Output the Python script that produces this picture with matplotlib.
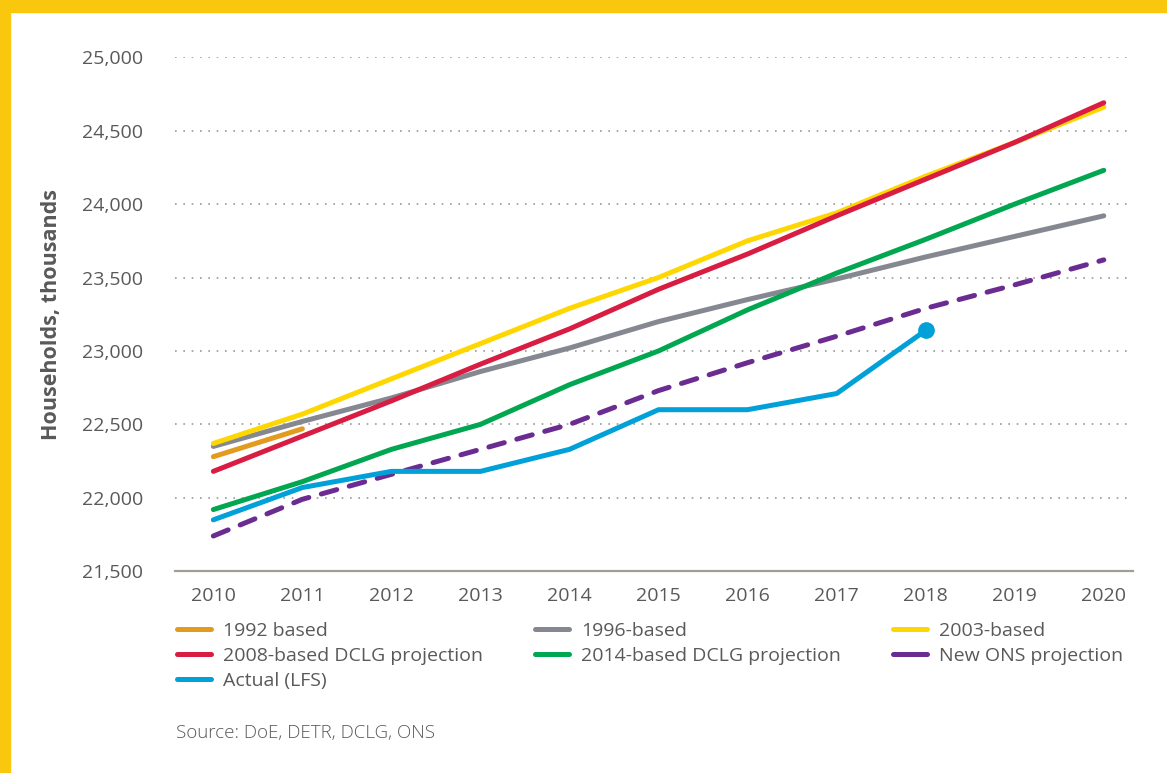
import matplotlib.pyplot as plt
from matplotlib.patches import Rectangle
from matplotlib.ticker import FuncFormatter

plt.rcParams['font.family'] = ['Open Sans', 'DejaVu Sans']

# Household projections, thousands
years = list(range(2010, 2021))
based_1992 = [22280, 22470]
based_1996 = [22350, 22520, 22680, 22860, 23020, 23200, 23350, 23490, 23640, 23780, 23920]
based_2003 = [22370, 22570, 22810, 23050, 23290, 23500, 23750, 23940, 24190, 24420, 24660]
based_2008 = [22180, 22420, 22660, 22910, 23150, 23420, 23660, 23920, 24170, 24420, 24690]
based_2014 = [21920, 22110, 22330, 22500, 22770, 23000, 23280, 23530, 23760, 24000, 24230]
ons_new = [21740, 21990, 22160, 22330, 22500, 22730, 22920, 23100, 23290, 23450, 23620]
actual_years = list(range(2010, 2019))
actual_lfs = [21850, 22070, 22180, 22180, 22330, 22600, 22600, 22710, 23140]

yticks = [21500, 22000, 22500, 23000, 23500, 24000, 24500, 25000]

text_col = '#58595b'

fig = plt.figure(figsize=(11.67, 7.73), dpi=100)
ax = fig.add_axes([0.150, 0.261, 0.821, 0.665])

# yellow frame on top and left
fig.patches.append(Rectangle((0, 1 - 12 / 773), 1, 12 / 773, transform=fig.transFigure,
                             color='#f9c80e', zorder=0))
fig.patches.append(Rectangle((0, 0), 10 / 1167, 1, transform=fig.transFigure,
                             color='#f9c80e', zorder=0))

lw = 3.6
ax.plot(years[:2], based_1992, color='#e39b1f', lw=lw, solid_capstyle='round', label='1992 based')
ax.plot(years, based_1996, color='#858890', lw=lw, solid_capstyle='round', label='1996-based')
ax.plot(years, based_2003, color='#ffd700', lw=lw, solid_capstyle='round', label='2003-based')
ax.plot(years, based_2008, color='#d91c41', lw=lw, solid_capstyle='round', label='2008-based DCLG projection')
ax.plot(years, based_2014, color='#00a650', lw=lw, solid_capstyle='round', label='2014-based DCLG projection')
ax.plot(years, ons_new, color='#6b2c91', lw=lw, dashes=(3.2, 2.6), dash_capstyle='round',
        label='New ONS projection')
ax.plot(actual_years, actual_lfs, color='#00a0d8', lw=lw, solid_capstyle='round', label='Actual (LFS)')
ax.plot(actual_years[-1:], actual_lfs[-1:], 'o', color='#00a0d8', ms=11)

ax.set_xlim(2009.57, 2020.33)
ax.set_ylim(21500, 25000)
ax.set_xticks(years)
ax.set_yticks(yticks)
ax.yaxis.set_major_formatter(FuncFormatter(lambda v, p: f'{int(v):,}'))
ax.tick_params(axis='both', length=0, labelsize=14, labelcolor=text_col)
ax.tick_params(axis='y', pad=23)
ax.tick_params(axis='x', pad=11)

for s in ['top', 'right', 'left']:
    ax.spines[s].set_visible(False)
ax.spines['bottom'].set_color('#a39d99')
ax.spines['bottom'].set_linewidth(1.6)

ax.grid(axis='y', color='#9a9a9a', linestyle=(0, (1, 4)), lw=1.2)
ax.set_axisbelow(True)

ax.set_ylabel('Households, thousands', fontsize=15.5, fontweight='bold', color=text_col, labelpad=14)

handles, labels = ax.get_legend_handles_labels()
order = [0, 3, 6, 1, 4, 2, 5]
leg = fig.legend([handles[i] for i in order], [labels[i] for i in order],
                 loc='upper left', bbox_to_anchor=(0.145, 0.206), ncol=3, frameon=False,
                 fontsize=14, handlelength=1.75, handletextpad=0.6, columnspacing=2.7,
                 labelspacing=0.36, borderaxespad=0)
for t in leg.get_texts():
    t.set_color(text_col)
for h in leg.legend_handles:
    h.set_linestyle('-')
    h.set_solid_capstyle('round')

fig.text(176 / 1167, 1 - 733 / 773, 'Source: DoE, DETR, DCLG, ONS', fontsize=13.5,
         color=text_col, va='center', fontweight='light')

fig.savefig('out.png', dpi=100)
